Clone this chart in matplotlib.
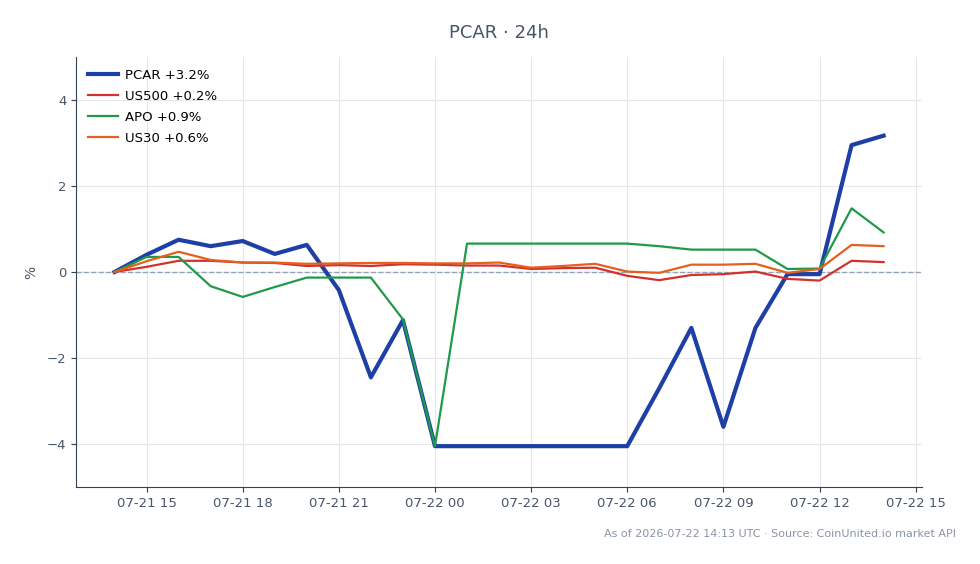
import numpy as np
import pandas as pd
import matplotlib
matplotlib.use("Agg")
import matplotlib.pyplot as plt
import matplotlib.dates as mdates

# hourly points, 07-21 14:00 -> 07-22 14:00
times = pd.date_range("2026-07-21 14:00", "2026-07-22 14:00", freq="h")

pcar = [0.0, 0.4, 0.75, 0.6, 0.72, 0.42, 0.63, -0.42, -2.45, -1.12, -4.05,
        -4.05, -4.05, -4.05, -4.05, -4.05, -4.05, -2.7, -1.3, -3.6, -1.3,
        -0.05, -0.05, 2.95, 3.17]
us500 = [0.0, 0.12, 0.26, 0.26, 0.22, 0.21, 0.14, 0.16, 0.14, 0.18, 0.17,
         0.15, 0.15, 0.07, 0.09, 0.1, -0.09, -0.19, -0.07, -0.05, 0.01,
         -0.16, -0.2, 0.26, 0.23]
apo = [0.0, 0.35, 0.35, -0.33, -0.58, -0.35, -0.13, -0.13, -0.13, -1.1, -4.05,
       0.66, 0.66, 0.66, 0.66, 0.66, 0.66, 0.6, 0.52, 0.52, 0.52,
       0.07, 0.08, 1.48, 0.92]
us30 = [0.0, 0.25, 0.47, 0.28, 0.22, 0.22, 0.19, 0.2, 0.21, 0.21, 0.2,
        0.2, 0.22, 0.1, 0.14, 0.19, 0.01, -0.02, 0.17, 0.17, 0.19,
        -0.02, 0.07, 0.63, 0.6]

labels = ["PCAR +3.2%", "US500 +0.2%", "APO +0.9%", "US30 +0.6%"]
colors = ["#1e40a6", "#d2312d", "#1f9a4a", "#e4601c"]
widths = [3.0, 1.6, 1.6, 1.6]

fig = plt.figure(figsize=(9.8, 5.64), dpi=100)
ax = fig.add_axes([0.0776, 0.1365, 0.8633, 0.7625])

for s, lab, c, w in zip([pcar, us500, apo, us30], labels, colors, widths):
    ax.plot(times, s, color=c, lw=w, label=lab, zorder=3)

ax.axhline(0, color="#94a3b8", lw=1, ls="--", zorder=2)
ax.set_ylim(-5, 5)
ax.set_yticks([-4, -2, 0, 2, 4])
ax.set_yticklabels(["\u22124", "\u22122", "0", "2", "4"])
ax.xaxis.set_major_locator(mdates.HourLocator(byhour=[0, 3, 6, 9, 12, 15, 18, 21]))
ax.xaxis.set_major_formatter(mdates.DateFormatter("%m-%d %H"))

ax.grid(True, color="#e5e7eb", lw=0.8)
ax.set_axisbelow(True)
for sp in ["top", "right"]:
    ax.spines[sp].set_visible(False)
for sp in ["left", "bottom"]:
    ax.spines[sp].set_color("#334155")
ax.tick_params(colors="#334155", labelcolor="#475569", labelsize=9.5)

ax.set_ylabel("%", color="#475569", fontsize=10, labelpad=6)
ax.set_title("PCAR \u00b7 24h", color="#475569", fontsize=13, pad=14)
ax.legend(loc="upper left", frameon=False, fontsize=9.5, handlelength=2.3,
          handletextpad=0.5, labelspacing=0.6)

fig.text(0.975, 0.045, "As of 2026-07-22 14:13 UTC \u00b7 Source: CoinUnited.io market API",
         ha="right", va="bottom", fontsize=8, color="#8a94a3")

fig.savefig("out.png", dpi=100)
